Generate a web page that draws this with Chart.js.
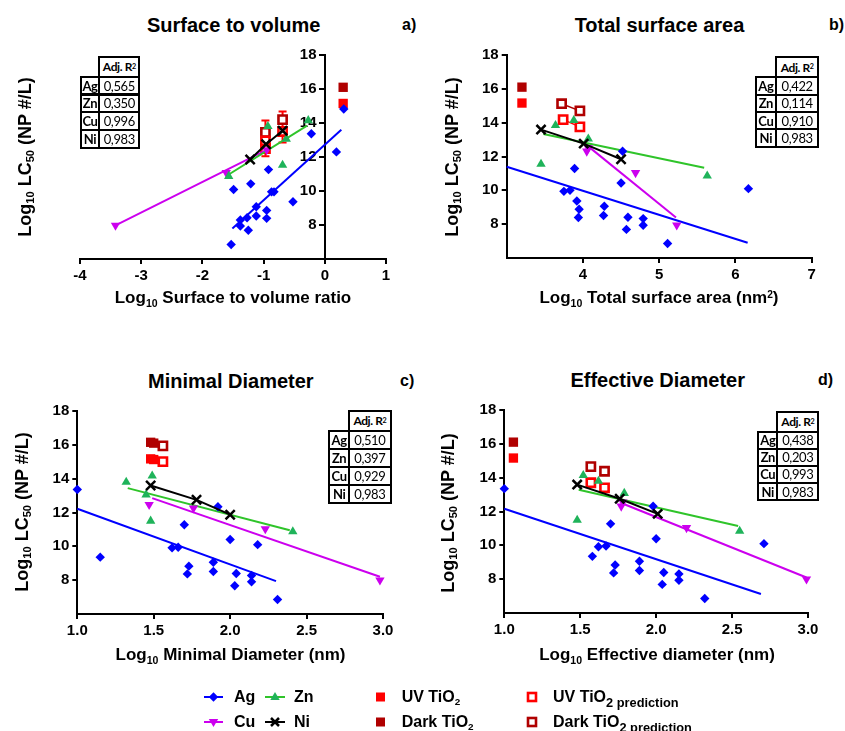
<!DOCTYPE html>
<html><head><meta charset="utf-8">
<script src="https://cdn.jsdelivr.net/npm/chart.js@4"></script>
<style>
body{margin:0;background:#fff;width:845px;height:731px;position:relative;overflow:hidden;font-family:'Liberation Sans',Arial,sans-serif;color:#000;}
canvas{position:absolute;}
.title{position:absolute;font-weight:bold;font-size:20px;transform:translate(-50%,-50%);white-space:nowrap;}
.tag{position:absolute;font-weight:bold;font-size:16px;transform:translateY(-50%);white-space:nowrap;}
.xt{position:absolute;font-weight:bold;font-size:17px;transform:translate(-50%,-50%);white-space:nowrap;}
.yt{position:absolute;font-weight:bold;font-size:18px;transform:translate(-50%,-50%) rotate(-90deg);white-space:nowrap;}
sub{font-size:0.62em;vertical-align:-0.35em;line-height:0;}
sup{font-size:0.6em;vertical-align:0.5em;line-height:0;}
.cell{position:absolute;box-sizing:border-box;border:2px solid #000;display:flex;align-items:center;justify-content:center;font-family:Lato,'Open Sans',sans-serif;font-size:13px;letter-spacing:-0.4px;background:#fff;}
.cell.h{font-size:12px;}
.leg{position:absolute;font-weight:bold;font-size:16px;transform:translateY(-50%);white-space:nowrap;}
.leg sub.p{font-size:0.8em;vertical-align:-0.4em;}
</style></head><body>
<div id="root"></div>
<script>
// ---------- DATA ----------
const metals = ['Ag','Zn','Cu','Ni'];
const yTicks = [8,10,12,14,16,18];
const yLabels = ['8','10','12','14','16','18'];
const xTicksA = [-4,-3,-2,-1,0,1];
const xLabelsA = ['-4','-3','-2','-1','0','1'];
const xTicksB = [4,5,6,7];
const xLabelsB = ['4','5','6','7'];
const xTicksCD = [1.0,1.5,2.0,2.5,3.0];
const xLabelsCD = ['1.0','1.5','2.0','2.5','3.0'];

// Panel a: Surface to volume
const agA = [[0.31,14.82],[-0.22,13.37],[0.19,12.3],[-0.92,11.26],[-1.21,10.42],[-1.49,10.09],[-0.87,9.95],[-0.83,9.95],[-0.52,9.37],[-1.12,9.07],[-0.95,8.86],[-1.12,8.53],[-0.95,8.39],[-1.27,8.43],[-1.38,8.29],[-1.38,7.94],[-1.25,7.69],[-1.53,6.85]];
const agFitA = [[-1.51,7.79],[0.27,13.6]];
const znA = [[-1.57,10.87],[-0.93,13.8],[-0.63,13.06],[-0.69,11.52],[-0.27,14.15]];
const znFitA = [[-1.57,10.97],[-0.29,13.84]];
const cuA = [[-3.42,7.98],[-1.61,11.07],[-0.95,12.42]];
const cuFitA = [[-3.42,7.98],[-0.95,12.42]];
const niA = [[-1.22,11.85],[-0.96,12.75],[-0.69,13.55]];
const uvA = [[0.3,15.15]];
const darkA = [[0.3,16.1]];
const uvPredA = [[-0.97,12.5],[-0.97,12.95],[-0.69,13.5]];
const darkPredA = [[-0.97,13.45],[-0.69,14.2]];
const errA = [[-0.97,12.05,14.15],[-0.69,12.85,14.68]];
const r2A = ['0,565','0,350','0,996','0,983'];

// Panel b: Total surface area
const agB = [[4.52,12.31],[3.89,11.29],[4.50,10.43],[3.75,9.94],[3.83,10.0],[6.17,10.1],[3.92,9.37],[4.28,9.06],[3.95,8.88],[4.27,8.51],[3.94,8.39],[4.59,8.41],[4.79,8.33],[4.79,7.94],[4.57,7.69],[5.11,6.86]];
const agFitB = [[3.0,11.39],[6.16,6.9]];
const znB = [[3.45,11.55],[3.64,13.84],[3.88,14.14],[4.07,13.04],[5.63,10.86]];
const znFitB = [[3.48,13.33],[5.59,11.33]];
const cuB = [[4.05,12.31],[4.07,12.5],[4.69,11.04],[5.23,7.94]];
const cuFitB = [[4.07,12.6],[5.22,8.39]];
const niB = [[3.45,13.59],[4.01,12.76],[4.5,11.84]];
const uvB = [[3.2,15.16]];
const darkB = [[3.2,16.1]];
const uvPredB = [[3.74,14.18],[3.96,13.75]];
const darkPredB = [[3.72,15.12],[3.96,14.7]];
const r2B = ['0,422','0,114','0,910','0,983'];

// Panel c: Minimal Diameter
const agC = [[1.0,13.36],[1.15,9.36],[1.62,9.91],[1.66,9.95],[1.70,11.28],[1.73,8.83],[1.72,8.37],[1.89,8.51],[1.89,9.06],[1.92,12.34],[2.0,10.40],[2.03,7.67],[2.04,8.39],[2.14,8.28],[2.14,7.90],[2.18,10.1],[2.31,6.86]];
const agFitC = [[1.0,12.22],[2.30,7.94]];
const znC = [[1.32,13.8],[1.45,13.05],[1.49,14.17],[1.48,11.5],[2.41,10.87]];
const znFitC = [[1.33,13.44],[2.39,10.95]];
const cuC = [[1.47,12.46],[1.76,12.26],[2.23,11.03],[2.98,8.0]];
const cuFitC = [[1.49,12.85],[2.98,8.2]];
const niC = [[1.48,13.6],[1.78,12.75],[2.0,11.87]];
const uvC = [[1.48,15.17],[1.50,15.13]];
const darkC = [[1.48,16.15],[1.50,16.1]];
const uvPredC = [[1.56,15.01]];
const darkPredC = [[1.56,15.94]];
const r2C = ['0,510','0,397','0,929','0,983'];

// Panel d: Effective Diameter
const agD = [[1.0,13.35],[1.58,9.35],[1.62,9.92],[1.67,9.96],[1.70,11.27],[1.73,8.84],[1.72,8.37],[1.89,8.51],[1.89,9.06],[1.98,12.31],[2.0,10.39],[2.04,7.69],[2.05,8.39],[2.15,8.31],[2.15,7.94],[2.71,10.1],[2.32,6.86]];
const agFitD = [[1.0,12.16],[2.69,7.12]];
const znD = [[1.48,11.49],[1.52,14.14],[1.62,13.8],[1.79,13.08],[2.55,10.84]];
const znFitD = [[1.49,13.29],[2.54,11.14]];
const cuD = [[1.77,12.31],[1.78,12.55],[2.20,11.04],[2.99,8.0]];
const cuFitD = [[1.77,12.5],[2.99,8.1]];
const niD = [[1.48,13.59],[1.76,12.75],[2.01,11.86]];
const uvD = [[1.06,15.16]];
const darkD = [[1.06,16.1]];
const uvPredD = [[1.57,13.7],[1.66,13.4]];
const darkPredD = [[1.57,14.65],[1.66,14.38]];
const r2D = ['0,438','0,203','0,993','0,983'];

// ---------- STYLE ----------
const BLUE='#0000ff', GREEN='#1fb35a', GREENLINE='#2fc42a', MAG='#cc00ee', RED='#ff0000', DARK='#b00000';
const FF = "'Liberation Sans', Arial, sans-serif";
const root = document.getElementById('root');

function pts(a){return a.map(p=>({x:p[0],y:p[1]}));}

const errPlugin = {
  id:'errbars',
  beforeDatasetsDraw(chart, args, o){
    if(!o || !o.bars) return;
    const ctx=chart.ctx, x=chart.scales.x, y=chart.scales.y;
    ctx.save(); ctx.lineWidth=2; ctx.strokeStyle=RED;
    o.bars.forEach(b=>{
      const px=x.getPixelForValue(b[0]), lo=y.getPixelForValue(b[1]), hi=y.getPixelForValue(b[2]);
      ctx.beginPath();
      ctx.moveTo(px,lo); ctx.lineTo(px,hi);
      ctx.moveTo(px-4,lo); ctx.lineTo(px+4,lo);
      ctx.moveTo(px-4,hi); ctx.lineTo(px+4,hi);
      ctx.stroke();
    });
    ctx.restore();
  }
};

function datasets(d){
  const ds=[];
  const line=(a,c,w)=>ds.push({data:pts(a),showLine:true,borderColor:c,borderWidth:w||2,pointRadius:0,clip:false});
  const mark=(a,style,c,r,extra)=>ds.push(Object.assign({data:pts(a),showLine:false,pointStyle:style,pointRadius:r,pointHoverRadius:r,backgroundColor:c,borderColor:c,borderWidth:0,clip:false},extra||{}));
  mark(d.ni,'crossRot','#000',6.5,{borderWidth:2.5});
  line(d.ni,'#000',2);
  mark(d.zn,'triangle',GREEN,5.4);
  mark(d.cu,'triangle',MAG,5.4,{rotation:180});
  mark(d.ag,'rectRot',BLUE,4.7);
  line(d.znFit,GREENLINE,2);
  line(d.cuFit,MAG,2);
  line(d.agFit,BLUE,2);
  const predLine = d.predLine ? 1.5 : 0;
  ds.push({data:pts(d.uvPred),showLine:!!d.predLine,borderColor:RED,borderWidth:predLine,pointStyle:'rect',pointRadius:5.8,backgroundColor:'#fff',pointBorderColor:RED,pointBorderWidth:2.6,clip:false});
  ds.push({data:pts(d.darkPred),showLine:!!d.predLine,borderColor:DARK,borderWidth:predLine,pointStyle:'rect',pointRadius:5.8,backgroundColor:'#fff',pointBorderColor:DARK,pointBorderWidth:2.6,clip:false});
  mark(d.uv,'rect',RED,6.6);
  mark(d.dark,'rect',DARK,6.6);
  return ds;
}

function axisCommon(){
  return {
    ticks:{font:{family:FF,size:15,weight:'bold'},color:'#000',padding:3,maxRotation:0,autoSkip:false},
    grid:{drawOnChartArea:false,color:'#000',lineWidth:2,tickLength:5},
    border:{display:true,color:'#000',width:2}
  };
}

function makePanel(p){
  const cv=document.createElement('canvas');
  cv.width=p.w; cv.height=p.h;
  cv.style.left=p.left+'px'; cv.style.top=p.top+'px';
  root.appendChild(cv);
  const xs=axisCommon(), ys=axisCommon();
  Object.assign(xs,{type:'linear',min:p.xmin,max:p.xmax,
    afterBuildTicks:ax=>{ax.ticks=p.xticks.map(v=>({value:v}));},
    afterFit:ax=>{ax.height=30;}});
  xs.ticks.callback=(v,i)=>p.xlabels[i];
  Object.assign(ys,{type:'linear',min:6,max:18,position:p.ypos||'left',
    afterBuildTicks:ax=>{ax.ticks=yTicks.map(v=>({value:v}));},
    afterFit:ax=>{ax.width=40;}});
  const scales={x:xs,y:ys};
  if(p.ypos){
    // axis crossing inside the plot: line + tick marks on 'y', labels on a companion scale set 8px to the left
    ys.ticks.callback=()=>'';
    const yl=axisCommon();
    Object.assign(yl,{type:'linear',min:6,max:18,position:{x:p.labelX},
      afterBuildTicks:ax=>{ax.ticks=yTicks.map(v=>({value:v}));}});
    yl.grid={display:false}; yl.border={display:false};
    yl.ticks.callback=(v,i)=>yLabels[i];
    scales.yl=yl;
  } else {
    ys.ticks.callback=(v,i)=>yLabels[i];
  }
  new Chart(cv,{
    type:'scatter',
    data:{datasets:datasets(p.data)},
    plugins:[errPlugin],
    options:{
      responsive:false,animation:false,events:[],
      layout:{padding:p.pad},
      plugins:{legend:{display:false},tooltip:{enabled:false},errbars:{bars:p.err||null}},
      scales:scales
    }
  });
}

makePanel({left:0,top:40,w:420,h:250,pad:{left:80,right:34,top:15,bottom:1},xmin:-4,xmax:1,xticks:xTicksA,xlabels:xLabelsA,ypos:{x:0},labelX:-0.135,err:errA,
  data:{ag:agA,agFit:agFitA,zn:znA,znFit:znFitA,cu:cuA,cuFit:cuFitA,ni:niA,uv:uvA,dark:darkA,uvPred:uvPredA,darkPred:darkPredA}});
makePanel({left:420,top:40,w:425,h:250,pad:{left:46.7,right:33.3,top:15,bottom:2},xmin:3,xmax:7,xticks:xTicksB,xlabels:xLabelsB,
  data:{ag:agB,agFit:agFitB,zn:znB,znFit:znFitB,cu:cuB,cuFit:cuFitB,ni:niB,uv:uvB,dark:darkB,uvPred:uvPredB,darkPred:darkPredB,predLine:true}});
makePanel({left:0,top:396,w:420,h:250,pad:{left:37.3,right:37,top:15,bottom:2},xmin:1,xmax:3,xticks:xTicksCD,xlabels:xLabelsCD,
  data:{ag:agC,agFit:agFitC,zn:znC,znFit:znFitC,cu:cuC,cuFit:cuFitC,ni:niC,uv:uvC,dark:darkC,uvPred:uvPredC,darkPred:darkPredC}});
makePanel({left:420,top:395,w:425,h:250,pad:{left:44.3,right:37,top:15,bottom:2},xmin:1,xmax:3,xticks:xTicksCD,xlabels:xLabelsCD,
  data:{ag:agD,agFit:agFitD,zn:znD,znFit:znFitD,cu:cuD,cuFit:cuFitD,ni:niD,uv:uvD,dark:darkD,uvPred:uvPredD,darkPred:darkPredD}});

// ---------- TEXT ----------
function div(cls,html,x,y){const e=document.createElement('div');e.className=cls;e.innerHTML=html;e.style.left=x+'px';e.style.top=y+'px';root.appendChild(e);return e;}
const YT='Log<sub>10</sub> LC<sub>50</sub> (NP #/L)';
div('title','Surface to volume',233.7,25); div('tag','a)',402,25);
div('title','Total surface area',659.5,25); div('tag','b)',829,25);
div('title','Minimal Diameter',230.8,380.7); div('tag','c)',400,380.7);
div('title','Effective Diameter',657.7,380); div('tag','d)',818,380);
div('xt','Log<sub>10</sub> Surface to volume ratio',233,298);
div('xt','Log<sub>10</sub> Total surface area (nm<sup>2</sup>)',659,298);
div('xt','Log<sub>10</sub> Minimal Diameter (nm)',230.5,655);
div('xt','Log<sub>10</sub> Effective diameter (nm)',657,655);
div('yt',YT,25,157); div('yt',YT,451.7,157); div('yt',YT,21.7,511.7); div('yt',YT,448.3,513);

function table(left,top,w1,w2,hh,rh,vals){
  const c=(x,y,w,h,html,bold,cls)=>{const e=document.createElement('div');e.className='cell'+(cls?' '+cls:'');e.style.left=(x-1)+'px';e.style.top=(y-1)+'px';e.style.width=(w+2)+'px';e.style.height=(h+2)+'px';if(bold)e.style.fontWeight='bold';e.innerHTML=html;root.appendChild(e);};
  c(left+w1,top,w2,hh,'Adj. R<sup>2</sup>',true,'h');
  metals.forEach((m,i)=>{const y=top+hh+i*rh;c(left,y,w1,rh,m,true);c(left+w1,y,w2,rh,vals[i],false);});
}
table(80.7,56.7,18.6,40,20,17.8,r2A);
table(755.7,57.3,20.3,42.3,20,17.35,r2B);
table(329.3,410.7,19.7,41.7,20.3,18,r2C);
table(758.3,411.7,19,41,20,17.1,r2D);

// ---------- LEGEND ----------
const svgNS='http://www.w3.org/2000/svg';
const svg=document.createElementNS(svgNS,'svg');
svg.setAttribute('width','845');svg.setAttribute('height','731');
svg.style.position='absolute';svg.style.left='0';svg.style.top='0';
root.appendChild(svg);
function s(tag,attrs){const e=document.createElementNS(svgNS,tag);for(const k in attrs)e.setAttribute(k,attrs[k]);svg.appendChild(e);return e;}
const r1=697, r2=722;
s('line',{x1:204,y1:r1,x2:223,y2:r1,stroke:BLUE,'stroke-width':2});
s('polygon',{points:`${213.5-4.7},${r1} 213.5,${r1-4.7} ${213.5+4.7},${r1} 213.5,${r1+4.7}`,fill:BLUE});
s('line',{x1:265,y1:r1,x2:285,y2:r1,stroke:GREENLINE,'stroke-width':2});
s('polygon',{points:`275,${r1-5} ${275+4.7},${r1+3} ${275-4.7},${r1+3}`,fill:GREEN});
s('line',{x1:204,y1:r2,x2:223,y2:r2,stroke:MAG,'stroke-width':2});
s('polygon',{points:`213.5,${r2+5} ${213.5+4.7},${r2-3} ${213.5-4.7},${r2-3}`,fill:MAG});
s('line',{x1:265,y1:r2,x2:285,y2:r2,stroke:'#000','stroke-width':2});
s('path',{d:`M271,${r2-4} L279,${r2+4} M279,${r2-4} L271,${r2+4}`,stroke:'#000','stroke-width':2.5});
s('rect',{x:376,y:r1-4.5,width:9,height:9,fill:RED});
s('rect',{x:376,y:r2-4.5,width:9,height:9,fill:DARK});
s('rect',{x:528,y:r1-4,width:8,height:8,fill:'#fff',stroke:RED,'stroke-width':2.6});
s('rect',{x:528,y:r2-4,width:8,height:8,fill:'#fff',stroke:DARK,'stroke-width':2.6});
div('leg','Ag',234,r1); div('leg','Zn',294,r1); div('leg','Cu',234,r2); div('leg','Ni',294,r2);
div('leg','UV TiO<sub>2</sub>',401.7,r1); div('leg','Dark TiO<sub>2</sub>',401.7,r2);
div('leg','UV TiO<sub class="p">2 prediction</sub>',553,r1); div('leg','Dark TiO<sub class="p">2 prediction</sub>',553,r2);
</script>
</body></html>
